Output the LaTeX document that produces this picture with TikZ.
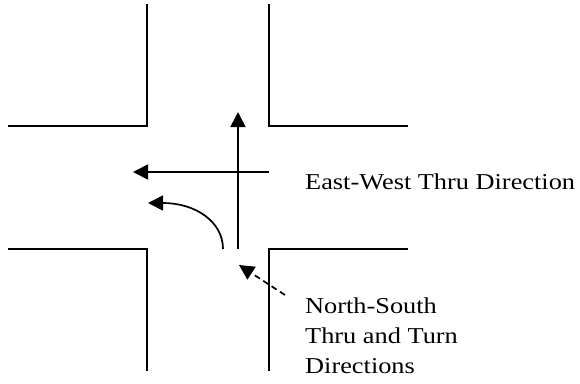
\documentclass[tikz,border=0pt]{standalone}
\usepackage{fontspec}
\setmainfont{Liberation Serif}
\usetikzlibrary{arrows.meta}
\begin{document}
\begin{tikzpicture}[x=1pt,y=1pt,
  road/.style={line width=1.7pt},
  flow/.style={line width=1.7pt,-{Triangle[length=15pt,width=15pt]}},
  note/.style={line width=1.7pt,dash pattern=on 6pt off 4pt,-{Triangle[length=15pt,width=15pt]}},
  lbl/.style={anchor=base west,inner sep=0pt,font=\fontsize{22.7}{30}\selectfont}]
\useasboundingbox (0,0) rectangle (580,-383);
% road edges
\draw[road] (8,-126) -- (147,-126) -- (147,-4);
\draw[road] (269,-4) -- (269,-126) -- (408,-126);
\draw[road] (8,-249) -- (147,-249) -- (147,-371);
\draw[road] (269,-371) -- (269,-249) -- (408,-249);
% movement arrows
\coordinate (nsS) at (238,-249);
\coordinate (nsN) at (238,-112);
\coordinate (ewE) at (269,-172);
\coordinate (ewW) at (133,-172);
\coordinate (tS) at (223,-249);
\coordinate (tW) at (148,-203);
\draw[flow] (nsS) -- (nsN);
\draw[flow] (ewE) -- (ewW);
\draw[flow] (tS) .. controls (223,-222) and (196,-203) .. (tW);
% labels
\node[lbl] (ew) at (305,-189) {\scalebox{1.16}[1]{East-West Thru Direction}};
\node[lbl] (ns) at (305,-313) {\scalebox{1.16}[1]{\begin{tabular}[t]{@{}l@{}}North-South\\Thru and Turn\\Directions\end{tabular}}};
\coordinate (nsTail) at (285,-295);
\coordinate (nsTip) at (239,-265);
\draw[note] (nsTail) -- (nsTip);
\end{tikzpicture}
\end{document}
